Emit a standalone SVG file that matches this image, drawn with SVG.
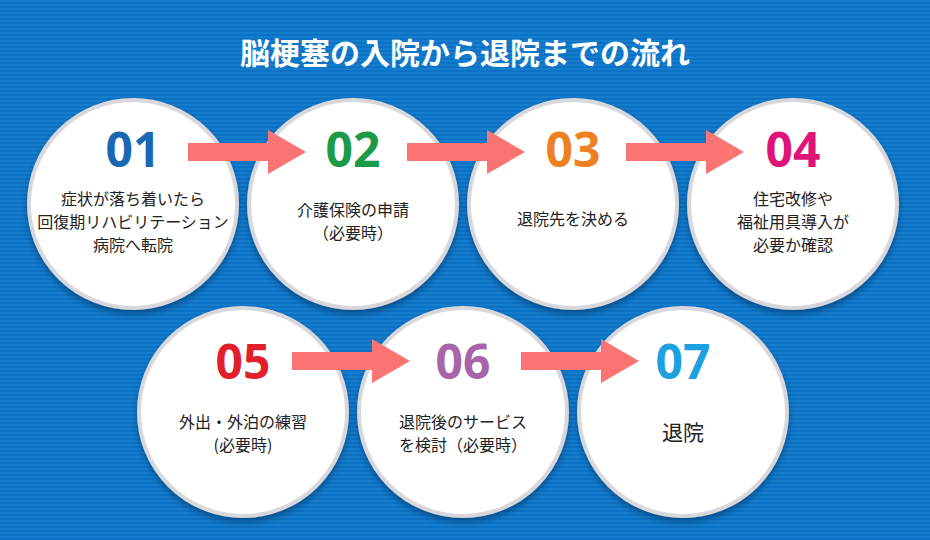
<svg xmlns="http://www.w3.org/2000/svg" width="930" height="540" viewBox="0 0 930 540">
<defs>
<pattern id="st" width="4" height="4" patternUnits="userSpaceOnUse"><rect width="4" height="4" fill="#0b72c5"/><rect width="4" height="2" fill="#167dcc"/></pattern>
<filter id="sh" x="-20%" y="-20%" width="140%" height="140%"><feDropShadow dx="0" dy="4" stdDeviation="3" flood-color="#003060" flood-opacity="0.6"/></filter>
</defs>
<style>
.c{fill:#fff;stroke:#d8d8dc;stroke-width:4;filter:url(#sh)}
.n{font-family:"Open Sans","Liberation Sans",sans-serif;font-weight:bold;font-size:48px;text-anchor:middle}
.t{font-family:"Noto Sans CJK JP",sans-serif;font-size:16px;text-anchor:middle;fill:#222}
.a{fill:#fb7373}
</style>
<rect width="930" height="540" fill="url(#st)"/>
<text x="465" y="64" font-family="Noto Sans CJK JP,sans-serif" font-weight="bold" font-size="30" fill="#fff" text-anchor="middle">脳梗塞の入院から退院までの流れ</text>
<g id="n1"><circle class="c" cx="133" cy="204" r="104"/><text class="n" x="133" y="167" fill="#1a68b2">01</text><text class="t" x="133" y="205">症状が落ち着いたら</text><text class="t" x="133" y="228">回復期リハビリテーション</text><text class="t" x="133" y="251">病院へ転院</text></g>
<g id="n2"><circle class="c" cx="353" cy="204" r="104"/><text class="n" x="353" y="167" fill="#1c9a48">02</text><text class="t" x="353" y="216">介護保険の申請</text><text class="t" x="353" y="239">（必要時）</text></g>
<g id="n3"><circle class="c" cx="573" cy="204" r="104"/><text class="n" x="573" y="167" fill="#ef8021">03</text><text class="t" x="573" y="225">退院先を決める</text></g>
<g id="n4"><circle class="c" cx="793" cy="204" r="104"/><text class="n" x="793" y="167" fill="#df1479">04</text><text class="t" x="793" y="205">住宅改修や</text><text class="t" x="793" y="228">福祉用具導入が</text><text class="t" x="793" y="251">必要か確認</text></g>
<g id="n5"><circle class="c" cx="243" cy="412" r="104"/><text class="n" x="243" y="379" fill="#e21f2d">05</text><text class="t" x="243" y="428">外出・外泊の練習</text><text class="t" x="243" y="451">(必要時)</text></g>
<g id="n6"><circle class="c" cx="463" cy="412" r="104"/><text class="n" x="463" y="379" fill="#a665a8">06</text><text class="t" x="463" y="428">退院後のサービス</text><text class="t" x="463" y="451">を検討（必要時）</text></g>
<g id="n7"><circle class="c" cx="683" cy="412" r="104"/><text class="n" x="683" y="379" fill="#1ba0e0">07</text><text class="t" x="683" y="440" style="font-size:21px">退院</text></g>
<g id="connectors">
<polygon class="a" points="188,143 268,143 268,130 306,152 268,174 268,161 188,161"/>
<polygon class="a" points="407,143 487,143 487,130 525,152 487,174 487,161 407,161"/>
<polygon class="a" points="626,143 706,143 706,130 744,152 706,174 706,161 626,161"/>
<polygon class="a" points="292,352 372,352 372,339 410,361 372,383 372,370 292,370"/>
<polygon class="a" points="521,352 601,352 601,339 639,361 601,383 601,370 521,370"/>
</g>
</svg>
